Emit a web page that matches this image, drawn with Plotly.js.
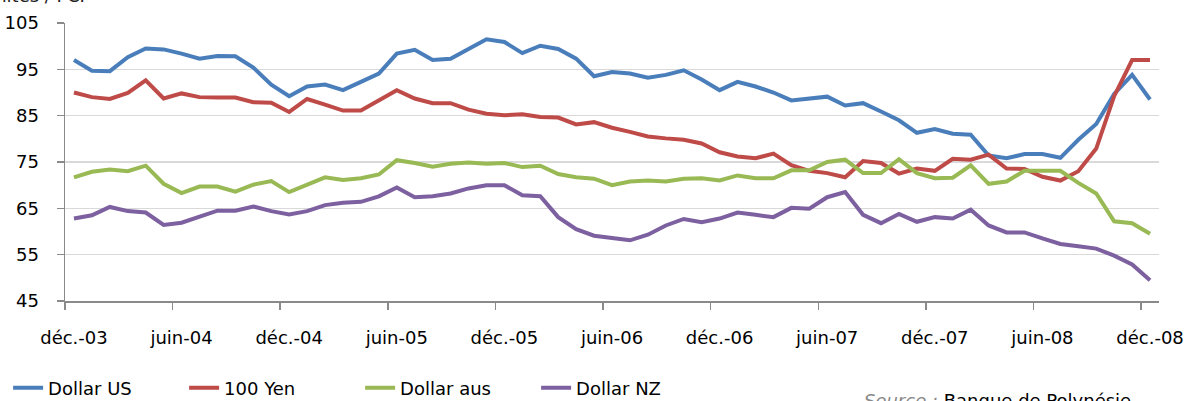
<!DOCTYPE html>
<html>
<head>
<meta charset="utf-8">
<script src="https://cdn.plot.ly/plotly-3.0.1.min.js"></script>
<style>html,body{margin:0;padding:0;background:#fff;}#chart{width:1190px;height:401px;}</style>
</head>
<body>
<div id="chart"></div>
<script>
// Monthly series, déc.-03 .. déc.-08 (61 months)
const tickLabels = ['déc.-03','juin-04','déc.-04','juin-05','déc.-05','juin-06','déc.-06','juin-07','déc.-07','juin-08','déc.-08'];
const seriesNames = ['Dollar US','100 Yen','Dollar aus','Dollar NZ'];
const dollarUS = [97.0,94.7,94.6,97.6,99.5,99.3,98.4,97.3,97.9,97.8,
  95.4,91.7,89.2,91.3,91.7,90.5,92.3,94.1,98.4,99.2,
  97.0,97.3,99.4,101.5,100.9,98.5,100.1,99.4,97.3,93.5,
  94.4,94.1,93.2,93.8,94.8,92.8,90.5,92.3,91.3,90.0,
  88.3,88.6,89.1,87.2,87.7,85.9,84.0,81.3,82.1,81.1,
  80.9,76.4,75.8,76.7,76.7,75.9,79.8,83.2,89.7,93.8,
  88.5];
const yen100 = [90.0,89.0,88.6,89.9,92.6,88.7,89.8,89.0,88.9,88.9,
  87.9,87.8,85.8,88.6,87.4,86.1,86.1,88.3,90.5,88.7,
  87.7,87.7,86.3,85.4,85.1,85.3,84.7,84.6,83.1,83.6,
  82.4,81.5,80.5,80.1,79.8,79.0,77.1,76.2,75.8,76.8,
  74.3,73.1,72.6,71.7,75.2,74.8,72.5,73.6,73.1,75.7,
  75.5,76.6,73.6,73.5,71.8,71.0,73.0,77.9,89.2,97.0,
  97.0];
const dollarAus = [71.7,72.9,73.4,73.0,74.2,70.3,68.3,69.7,69.7,68.6,
  70.1,70.9,68.5,70.0,71.7,71.1,71.5,72.3,75.4,74.8,
  74.0,74.6,74.9,74.6,74.8,73.9,74.2,72.4,71.7,71.4,
  70.0,70.8,71.0,70.8,71.4,71.5,71.0,72.1,71.5,71.5,
  73.2,73.2,75.0,75.5,72.6,72.6,75.6,72.6,71.5,71.6,
  74.3,70.3,70.8,73.1,73.1,73.1,70.5,68.2,62.2,61.8,
  59.5];
const dollarNZ = [62.8,63.5,65.3,64.4,64.1,61.4,61.9,63.2,64.5,64.5,
  65.4,64.4,63.7,64.4,65.7,66.2,66.4,67.6,69.5,67.4,
  67.6,68.2,69.3,70.0,70.0,67.8,67.6,63.1,60.5,59.1,
  58.6,58.1,59.3,61.3,62.7,62.0,62.8,64.1,63.6,63.1,
  65.1,64.9,67.4,68.5,63.6,61.8,63.8,62.1,63.1,62.8,
  64.7,61.3,59.8,59.8,58.5,57.3,56.8,56.3,54.8,52.9,
  49.5];

const colors = ['#4a7ebb','#be4b48','#98b954','#7d60a0'];
const allSeries = [dollarUS, yen100, dollarAus, dollarNZ];
const xIdx = dollarUS.map((_, i) => i);
const tickStep = 6;
const labelVals = tickLabels.map((_, k) => k * tickStep);
const boundaryVals = tickLabels.map((_, k) => k * tickStep - 0.5);

const FONT = '"DejaVu Sans", Verdana, sans-serif';

const traces = allSeries.map((ys, s) => ({
  type: 'scatter', mode: 'lines', name: seriesNames[s],
  x: xIdx, y: ys,
  line: {color: colors[s], width: 4, shape: 'linear'}
}));

const layout = {
  width: 1190, height: 401,
  margin: {l: 65, r: 31, t: 23, b: 100, pad: 0, autoexpand: false},
  paper_bgcolor: '#ffffff', plot_bgcolor: '#ffffff',
  font: {family: FONT, size: 18, color: '#000'},
  showlegend: true,
  legend: {orientation: 'h', x: -0.052, xanchor: 'left', y: -0.313, yanchor: 'middle',
           font: {family: FONT, size: 18, color: '#000'},
           itemwidth: 30, entrywidth: 131, entrywidthmode: 'pixels',
           traceorder: 'normal', bgcolor: 'rgba(0,0,0,0)'},
  xaxis: {
    automargin: false,
    range: [-0.5, 60.5], tickmode: 'array', tickvals: labelVals, ticktext: tickLabels,
    ticks: '', showgrid: false, zeroline: false,
    showline: true, linecolor: '#8a8a8a', linewidth: 1.5,
    ticklabelstandoff: 20,
    tickfont: {family: FONT, size: 18, color: '#000'},
    minor: {tickmode: 'array', tickvals: boundaryVals, ticks: 'outside', ticklen: 7, tickcolor: '#8a8a8a', tickwidth: 1.5, showgrid: false}
  },
  yaxis: {
    automargin: false,
    range: [45, 105], tickmode: 'array', tickvals: [45,55,65,75,85,95,105],
    ticks: 'outside', ticklen: 7, tickcolor: '#8a8a8a', tickwidth: 1.5,
    showgrid: true, gridcolor: '#d9d9d9', gridwidth: 1.5, zeroline: false,
    showline: true, linecolor: '#8a8a8a', linewidth: 1.5,
    ticklabelstandoff: 14,
    tickfont: {family: FONT, size: 18, color: '#000'}
  },
  annotations: [
    {text: 'Unités / FCP', xref: 'paper', yref: 'paper', x: -0.078, y: 1.1, xanchor: 'left', yanchor: 'middle',
     showarrow: false, font: {family: FONT, size: 18, color: '#222'}},
    {text: '<span style="color:#8a8a8a;font-style:italic">Source : </span>Banque de Polynésie', xref: 'paper', yref: 'paper',
     x: 0.7285, y: -0.357, xanchor: 'left', yanchor: 'middle', showarrow: false,
     font: {family: FONT, size: 18, color: '#000'}}
  ]
};

Plotly.newPlot('chart', traces, layout, {staticPlot: true, displayModeBar: false});
</script>
</body>
</html>
